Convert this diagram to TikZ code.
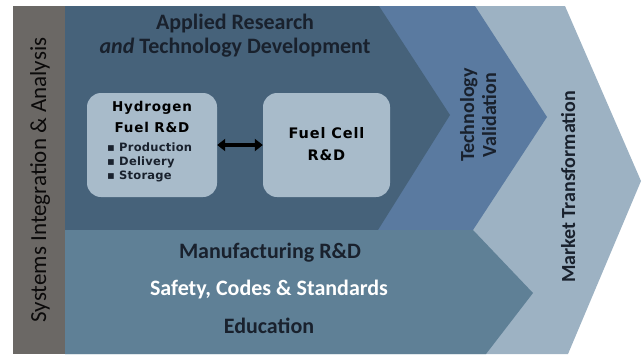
\documentclass[tikz,border=0pt]{standalone}
\usepackage{fontspec}
\setmainfont{Carlito}
\newfontfamily\boxfont[LetterSpace=6]{DejaVu Sans}
\newfontfamily\itemfont[LetterSpace=2]{DejaVu Sans}
\usetikzlibrary{arrows.meta}

\definecolor{greybar}{RGB}{107,104,101}
\definecolor{deepblue}{RGB}{70,98,122}
\definecolor{midblue}{RGB}{90,122,160}
\definecolor{paleblue}{RGB}{157,178,195}
\definecolor{mfgblue}{RGB}{95,128,150}
\definecolor{boxblue}{RGB}{168,187,202}
\definecolor{inkdark}{RGB}{25,33,45}

\begin{document}
\begin{tikzpicture}[x=1pt,y=-1pt,
  panel/.style={fill=boxblue, rounded corners=14pt, inner sep=0pt},
  heading/.style={inner sep=0pt, text=inkdark, font=\fontsize{22}{26}\selectfont\bfseries},
  sidelabel/.style={inner sep=0pt, text=inkdark, rotate=90, font=\fontsize{20}{24}\selectfont\bfseries},
  boxtitle/.style={inner sep=0pt, text=black, font=\boxfont\fontsize{13.5}{16}\selectfont\bfseries},
  boxitem/.style={inner sep=0pt, text=inkdark, font=\itemfont\fontsize{11.5}{13}\selectfont\bfseries},
  linkarrow/.style={line width=3.5pt, black, {Triangle[length=8pt,width=12pt]}-{Triangle[length=8pt,width=12pt]}}
]
\useasboundingbox (0,0) rectangle (642,354);

% stacked chevron bands
\fill[paleblue] (65,6) -- (565,6) -- (641,181) -- (568,354) -- (65,354) -- cycle;
\fill[midblue]  (65,6) -- (475,6) -- (547,117) -- (473,230) -- (65,230) -- cycle;
\fill[deepblue] (65,6) -- (379,6) -- (450,115) -- (378,230) -- (65,230) -- cycle;
\fill[mfgblue]  (65,230) -- (473,230) -- (533,293) -- (486,354) -- (65,354) -- cycle;
\fill[greybar]  (13,6) rectangle (65,354);

% research boxes
\node[panel, minimum width=130pt, minimum height=104pt] (h2) at (152,145) {};
\node[panel, minimum width=127pt, minimum height=104pt] (fc) at (326.5,145) {};
\draw[linkarrow] (h2) -- (fc);

% headings
\node[heading, anchor=base] (ar1) at (235,29) {Applied Research};
\node[heading, anchor=base] (ar2) at (235,53) {\textit{and} Technology Development};

\node[heading, anchor=base] (mfg) at (270,258) {Manufacturing R\&D};
\node[heading, anchor=base, text=white] (scs) at (269,295) {Safety, Codes \& Standards};
\node[heading, anchor=base] (edu) at (269,333) {Education};

% box contents
\node[boxtitle, anchor=base] (ht1) at (152,111) {Hydrogen};
\node[boxtitle, anchor=base] (ht2) at (152,132) {Fuel R\&D};
\node[boxitem, anchor=base west] (hb1) at (107,151) {▪ Production};
\node[boxitem, anchor=base west] (hb2) at (107,165) {▪ Delivery};
\node[boxitem, anchor=base west] (hb3) at (107,179) {▪ Storage};

\node[boxtitle, anchor=base, font=\boxfont\fontsize{14.5}{17}\selectfont\bfseries] (ft1) at (326.5,138) {Fuel Cell};
\node[boxtitle, anchor=base, font=\boxfont\fontsize{14.5}{17}\selectfont\bfseries] (ft2) at (326.5,160) {R\&D};

% vertical labels
\node[sidelabel, anchor=base] (tv1) at (474,115) {Technology};
\node[sidelabel, anchor=base] (tv2) at (496,115) {Validation};
\node[sidelabel, anchor=base] (mt) at (575,187) {Market Transformation};
\node[sidelabel, anchor=base, font=\fontsize{23}{27}\selectfont, text=black!90!greybar] (sia) at (46,180) {Systems Integration \& Analysis};
\end{tikzpicture}
\end{document}
